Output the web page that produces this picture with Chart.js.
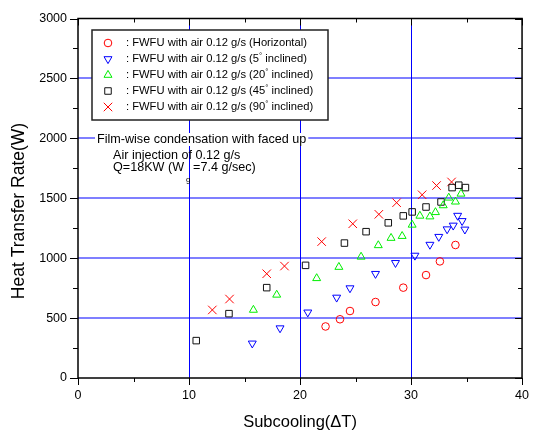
<!DOCTYPE html>
<html>
<head>
<meta charset="utf-8">
<script src="https://cdn.jsdelivr.net/npm/chart.js@4.4.0/dist/chart.umd.min.js"></script>
<style>
html, body { margin: 0; padding: 0; background: #fff; }
#wrap { width: 539px; height: 432px; }
</style>
</head>
<body>
<div id="wrap"><canvas id="heatChart" width="539" height="432"></canvas></div>
<script>
const FONT = 'Arial, "Liberation Sans", sans-serif';

// Subcooling (x) and heat transfer rate (y) for each inclination
const horizX = [22.3, 23.6, 24.5, 26.8, 29.3, 31.35, 32.6, 34.0];
const horizY = [430, 490, 559, 634, 754, 859, 973, 1110];

const inc5X = [15.7, 18.2, 20.7, 23.3, 24.5, 26.8, 28.6, 30.35, 31.7, 32.5, 33.25, 33.8, 34.2, 34.6, 34.85];
const inc5Y = [289, 416, 548, 672, 750, 870, 961, 1022, 1113, 1179, 1242, 1273, 1355, 1311, 1240];

const inc20X = [15.8, 17.9, 21.5, 23.5, 25.5, 27.05, 28.2, 29.2, 30.1, 30.8, 31.7, 32.2, 32.9, 33.4, 34.0, 34.5];
const inc20Y = [568, 694, 832, 926, 1011, 1107, 1168, 1184, 1278, 1353, 1347, 1383, 1440, 1504, 1471, 1537];

const inc45X = [10.65, 13.6, 17.0, 20.5, 24.0, 25.95, 27.95, 29.3, 30.1, 31.35, 32.7, 33.7, 34.3, 34.9];
const inc45Y = [312, 537, 754, 940, 1126, 1221, 1295, 1353, 1386, 1427, 1469, 1589, 1609, 1589];

const inc90X = [12.1, 13.65, 17.0, 18.6, 21.95, 24.75, 27.1, 28.7, 31.0, 32.3, 33.65];
const inc90Y = [568, 659, 870, 934, 1138, 1287, 1366, 1463, 1529, 1606, 1636];

const seriesAngles = ['Horizontal', '5', '20', '45', '90'];
const xTicksMajor = [0, 10, 20, 30, 40];
const yTicksMajor = [0, 500, 1000, 1500, 2000, 2500, 3000];
const xGridValues = [10, 20, 30];
const yGridValues = [500, 1000, 1500, 2000, 2500];

function toPoints(xs, ys) {
    return xs.map((x, i) => ({ x: x, y: ys[i] }));
}

const seriesStyles = [
    { color: '#ff0000', style: 'circle', radius: 3.8, rotation: 0 },
    { color: '#0000ff', style: 'triangle', radius: 4.6, rotation: 180 },
    { color: '#00ee00', style: 'triangle', radius: 4.6, rotation: 0 },
    { color: '#111111', style: 'rect', radius: 4.6, rotation: 0 },
    { color: '#ff0000', style: 'crossRot', radius: 6, rotation: 0 }
];
const seriesData = [
    toPoints(horizX, horizY),
    toPoints(inc5X, inc5Y),
    toPoints(inc20X, inc20Y),
    toPoints(inc45X, inc45Y),
    toPoints(inc90X, inc90Y)
];

// hand-drawn symbol for the legend box
function drawSymbol(ctx, s, x, y) {
    const r = s.radius;
    ctx.save();
    ctx.strokeStyle = s.color;
    ctx.lineWidth = 1;
    ctx.beginPath();
    if (s.style === 'circle') {
        ctx.arc(x, y, r, 0, Math.PI * 2);
    } else if (s.style === 'triangle') {
        let rad = s.rotation * Math.PI / 180;
        ctx.moveTo(x + Math.sin(rad) * r, y - Math.cos(rad) * r);
        rad += Math.PI * 2 / 3;
        ctx.lineTo(x + Math.sin(rad) * r, y - Math.cos(rad) * r);
        rad += Math.PI * 2 / 3;
        ctx.lineTo(x + Math.sin(rad) * r, y - Math.cos(rad) * r);
        ctx.closePath();
    } else if (s.style === 'rect') {
        const h = Math.SQRT1_2 * r;
        ctx.rect(x - h, y - h, 2 * h, 2 * h);
    } else {
        const h = Math.SQRT1_2 * r;
        ctx.moveTo(x - h, y - h); ctx.lineTo(x + h, y + h);
        ctx.moveTo(x - h, y + h); ctx.lineTo(x + h, y - h);
    }
    ctx.stroke();
    ctx.restore();
}

// blue grid, drawn under the points
const gridPlugin = {
    id: 'blueGrid',
    beforeDatasetsDraw(chart) {
        const ctx = chart.ctx;
        const a = chart.chartArea;
        ctx.save();
        ctx.strokeStyle = '#0000ff';
        ctx.lineWidth = 1;
        ctx.beginPath();
        xGridValues.forEach(v => {
            const px = Math.round(chart.scales.x.getPixelForValue(v)) + 0.5;
            ctx.moveTo(px, a.top); ctx.lineTo(px, a.bottom);
        });
        ctx.stroke();
        ctx.strokeStyle = 'rgba(0,0,255,0.5)';
        ctx.lineWidth = 2;
        ctx.beginPath();
        yGridValues.forEach(v => {
            const py = Math.round(chart.scales.y.getPixelForValue(v));
            ctx.moveTo(a.left, py); ctx.lineTo(a.right, py);
        });
        ctx.stroke();
        ctx.restore();
    }
};

const overlayPlugin = {
    id: 'overlay',
    afterDraw(chart) {
        const ctx = chart.ctx;
        const a = chart.chartArea;
        const xs = chart.scales.x;
        const ys = chart.scales.y;
        ctx.save();
        ctx.strokeStyle = '#000';

        // tick marks: outward on bottom/left, inward on top/right
        ctx.lineWidth = 1;
        ctx.beginPath();
        for (let v = 0; v <= 40; v += 5) {
            const px = Math.round(xs.getPixelForValue(v)) + 0.5;
            const major = v % 10 === 0;
            ctx.moveTo(px, a.bottom); ctx.lineTo(px, a.bottom + (major ? 7 : 4));
            ctx.moveTo(px, a.top); ctx.lineTo(px, a.top + (major ? 7 : 4));
        }
        for (let v = 0; v <= 3000; v += 250) {
            const py = Math.round(ys.getPixelForValue(v)) + 0.5;
            const major = v % 500 === 0;
            ctx.moveTo(a.left, py); ctx.lineTo(a.left - (major ? 8 : 5), py);
            ctx.moveTo(a.right, py); ctx.lineTo(a.right - (major ? 7 : 4), py);
        }
        ctx.stroke();

        // frame
        ctx.lineWidth = 1.5;
        ctx.strokeRect(a.left, a.top, a.right - a.left, a.bottom - a.top);

        // y axis title, placed like the original (a little below centre)
        ctx.save();
        ctx.translate(19, 211);
        ctx.rotate(-Math.PI / 2);
        ctx.fillStyle = '#000';
        ctx.font = '17.5px ' + FONT;
        ctx.textAlign = 'center';
        ctx.textBaseline = 'middle';
        ctx.fillText('Heat Transfer Rate(W)', 0, 0);
        ctx.restore();

        // legend box
        ctx.fillStyle = '#fff';
        ctx.fillRect(92, 30, 236, 90);
        ctx.lineWidth = 1.5;
        ctx.strokeStyle = '#222';
        ctx.strokeRect(92, 30, 236, 90);

        ctx.textBaseline = 'middle';
        seriesStyles.forEach((s, i) => {
            const y = 43 + i * 16;
            drawSymbol(ctx, s, 108, y);
            ctx.fillStyle = '#000';
            ctx.font = '11.2px ' + FONT;
            const angle = seriesAngles[i];
            if (angle === 'Horizontal') {
                ctx.fillText(': FWFU with air 0.12 g/s (Horizontal)', 126, y);
            } else {
                const head = ': FWFU with air 0.12 g/s (' + angle;
                ctx.fillText(head, 126, y);
                let x = 126 + ctx.measureText(head).width;
                ctx.font = '8px ' + FONT;
                ctx.fillText('°', x, y - 3);
                x += ctx.measureText('°').width;
                ctx.font = '11.2px ' + FONT;
                ctx.fillText(' inclined)', x, y);
            }
        });

        // annotation
        ctx.font = '12.6px ' + FONT;
        const line1 = 'Film-wise condensation with faced up';
        const w1 = ctx.measureText(line1).width;
        ctx.fillStyle = '#fff';
        ctx.fillRect(95, 133, w1 + 4, 13);
        ctx.fillStyle = '#000';
        ctx.fillText(line1, 97, 140);
        ctx.fillText('Air injection of 0.12 g/s', 113, 156);
        const head3 = 'Q=18KW (W';
        ctx.fillText(head3, 113, 168);
        const xw = 113 + ctx.measureText(head3).width;
        ctx.font = '8px ' + FONT;
        ctx.fillText('g', xw + 2, 180);
        ctx.font = '12.6px ' + FONT;
        ctx.fillText('=7.4 g/sec)', xw + 9, 168);

        ctx.restore();
    }
};

new Chart(document.getElementById('heatChart').getContext('2d'), {
    type: 'scatter',
    data: {
        datasets: seriesData.map((pts, i) => ({
            label: seriesAngles[i],
            data: pts,
            borderColor: seriesStyles[i].color,
            backgroundColor: 'rgba(0,0,0,0)',
            pointStyle: seriesStyles[i].style,
            pointRotation: seriesStyles[i].rotation,
            pointRadius: seriesStyles[i].radius,
            pointHoverRadius: seriesStyles[i].radius,
            pointBorderWidth: 1,
            showLine: false
        }))
    },
    options: {
        responsive: false,
        animation: false,
        devicePixelRatio: 1,
        layout: { padding: { top: 15, right: 8, left: 0, bottom: 0 } },
        plugins: { legend: { display: false }, tooltip: { enabled: false } },
        scales: {
            x: {
                type: 'linear',
                min: 0, max: 40,
                afterFit: s => { s.height = 54; },
                ticks: {
                    stepSize: 5,
                    padding: 10,
                    color: '#000',
                    font: { family: FONT, size: 12.5 },
                    maxRotation: 0,
                    callback: v => xTicksMajor.includes(v) ? String(v) : ''
                },
                grid: { drawTicks: false, drawOnChartArea: false },
                border: { display: false },
                title: {
                    display: true,
                    text: 'Subcooling(\u0394T)',
                    color: '#000',
                    font: { family: FONT, size: 16.5 },
                    padding: { top: 0, bottom: 0 }
                }
            },
            y: {
                min: 0, max: 3000,
                afterFit: s => { s.width = 78; },
                ticks: {
                    stepSize: 250,
                    padding: 11,
                    color: '#000',
                    font: { family: FONT, size: 12.5 },
                    callback: v => yTicksMajor.includes(v) ? String(v) : ''
                },
                grid: { drawTicks: false, drawOnChartArea: false },
                border: { display: false },
                title: { display: false }
            }
        }
    },
    plugins: [gridPlugin, overlayPlugin]
});
</script>
</body>
</html>
